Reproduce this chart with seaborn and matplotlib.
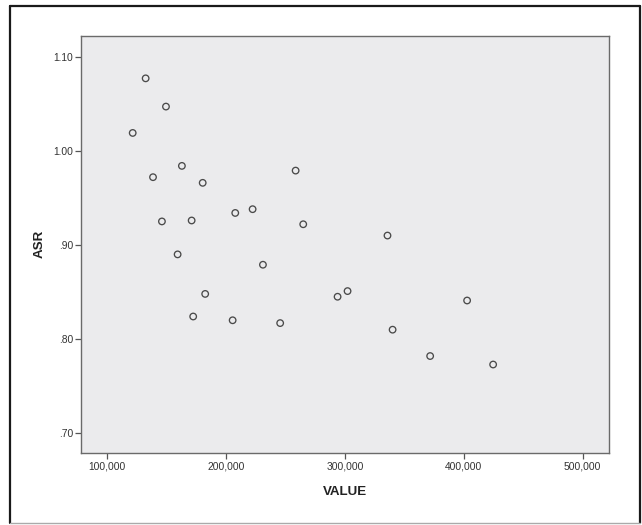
import pandas as pd
import matplotlib
matplotlib.use("Agg")
import matplotlib.pyplot as plt
import seaborn as sns
from matplotlib.lines import Line2D
from matplotlib.ticker import FuncFormatter

# Data

value = [132200, 149300, 121300, 162700, 138400, 180200, 258400, 145900,
         170900, 207600, 222200, 264800, 159100, 230900, 182300, 293700,
         302100, 172200, 205400, 245400, 335700, 340000, 371600, 402700,
         424600]
asr = [1.077, 1.047, 1.019, 0.984, 0.972, 0.966, 0.979, 0.925,
       0.926, 0.934, 0.938, 0.922, 0.890, 0.879, 0.848, 0.845,
       0.851, 0.824, 0.820, 0.817, 0.910, 0.810, 0.782, 0.841,
       0.773]

x_ticks = [100000, 200000, 300000, 400000, 500000]
y_ticks = [0.70, 0.80, 0.90, 1.00, 1.10]

df = pd.DataFrame({"VALUE": value, "ASR": asr})

sns.set_style("white")
plt.rcParams["font.family"] = ["Liberation Sans", "DejaVu Sans"]

W, H = 642, 525
fig = plt.figure(figsize=(W / 100, H / 100), dpi=100)

ax = fig.add_axes([81 / W, 1 - 453 / H, (609 - 81) / W, (453 - 35.7) / H])
ax.set_facecolor("#ebebed")

sns.scatterplot(
    data=df,
    x="VALUE",
    y="ASR",
    ax=ax,
    s=22,
    facecolor="none",
    edgecolor="#4a4a4a",
    linewidth=0.95
)

ax.set_xlim(77800, 522100)
ax.set_ylim(0.679, 1.1223)

ax.set_xticks(x_ticks)
ax.set_yticks(y_ticks)
ax.xaxis.set_major_formatter(FuncFormatter(lambda v, p: f"{v:,.0f}"))


def fmt_y(v, p):
    s = f"{v:.2f}"
    return s[1:] if s.startswith("0") else s


ax.yaxis.set_major_formatter(FuncFormatter(fmt_y))

ax.tick_params(
    axis="both",
    direction="out",
    length=4.3,
    width=0.9,
    color="#555555",
    labelsize=7.4,
    labelcolor="#333333",
    pad=1.5,
    left=True,
    bottom=True
)

for side in ax.spines.values():
    side.set_color("#6a6a6a")
    side.set_linewidth(1.0)

ax.set_xlabel("VALUE", fontsize=9.6, fontweight="bold", color="#222222", labelpad=11)
ax.set_ylabel("ASR", fontsize=9.6, fontweight="bold", color="#222222", labelpad=5)

# outer frame
fig.add_artist(Line2D([10 / W, 10 / W], [1 - 523 / H, 1 - 6 / H], color="#1a1a1a", lw=1.6))
fig.add_artist(Line2D([10 / W, 640 / W], [1 - 6 / H, 1 - 6 / H], color="#1a1a1a", lw=1.6))
fig.add_artist(Line2D([640 / W, 640 / W], [1 - 523 / H, 1 - 6 / H], color="#1a1a1a", lw=1.6))
fig.add_artist(Line2D([10 / W, 640 / W], [1 - 523 / H, 1 - 523 / H], color="#aaaaaa", lw=1.0))

fig.savefig("out.png", dpi=100)
